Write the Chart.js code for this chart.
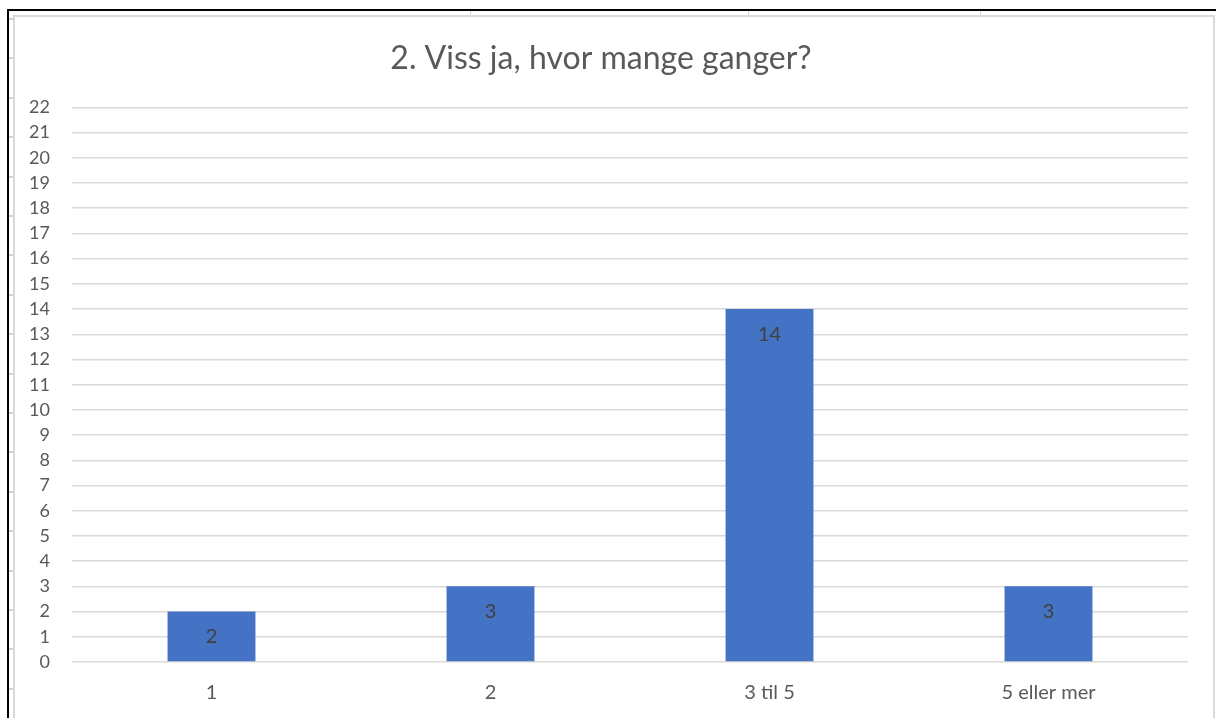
<!DOCTYPE html>
<html>
<head>
<meta charset="utf-8">
<script src="https://cdn.jsdelivr.net/npm/chart.js@4.4.1/dist/chart.umd.min.js"></script>
<style>
    body { margin: 0; background: #fff; }
    #sheet {
        position: absolute; left: 7px; top: 9px; width: 1216px; height: 718px;
        border-left: 2px solid #000; border-top: 2px solid #000;
    }
    #rows {
        position: absolute; left: 9px; top: 11px; width: 5px; height: 707px;
        background: repeating-linear-gradient(to bottom, transparent 0 7px, #d0d0d0 7px 9px, transparent 9px 39.4px);
    }
    .col { position: absolute; top: 11px; width: 1px; height: 5px; background: #d0d0d0; }
    #frame {
        position: absolute; left: 13px; top: 15px; width: 1198px; height: 710px;
        border: 2px solid #d9d9d9;
    }
    #wrap { position: absolute; left: 0; top: 0; width: 1216px; height: 718px; }
</style>
</head>
<body>
<div id="sheet"></div>
<div id="rows"></div>
<div class="col" style="left:470px"></div>
<div class="col" style="left:748px"></div>
<div class="col" style="left:980px"></div>
<div id="frame"></div>
<div id="wrap"><canvas id="chart"></canvas></div>
<script>
const title = "2. Viss ja, hvor mange ganger?";
const categories = ["1", "2", "3 til 5", "5 eller mer"];
const counts = [2, 3, 14, 3];
const yMax = 22;

const fontFamily = "Lato, 'Open Sans', sans-serif";

// value labels just inside the top of each bar, like Excel's "inside end"
const barLabels = {
    id: "barLabels",
    afterDatasetsDraw(chart) {
        const ctx = chart.ctx;
        const meta = chart.getDatasetMeta(0);
        ctx.save();
        ctx.font = "20px " + fontFamily;
        ctx.fillStyle = "#404040";
        ctx.textAlign = "center";
        ctx.textBaseline = "middle";
        meta.data.forEach((bar, i) => {
            ctx.fillText(String(counts[i]), bar.x, bar.y + 25);
        });
        ctx.restore();
    }
};

const data = {
    labels: categories,
    datasets: [{
        data: counts,
        backgroundColor: "#4472C4",
        borderWidth: 0,
        barPercentage: 0.315,
        categoryPercentage: 1
    }]
};

const config = {
    type: "bar",
    data,
    plugins: [barLabels],
    options: {
        responsive: false,
        animation: false,
        layout: { padding: { left: 14, right: 28, top: 0, bottom: 0 } },
        plugins: {
            legend: { display: false },
            tooltip: { enabled: false },
            title: {
                display: true,
                text: title,
                color: "#595959",
                font: { family: fontFamily, size: 32, weight: "normal" },
                padding: { top: 39, bottom: 30 }
            }
        },
        scales: {
            x: {
                afterFit(scale) { scale.height = 56; },
                grid: { display: false },
                border: { display: false },
                ticks: {
                    color: "#595959",
                    font: { family: fontFamily, size: 20 },
                    padding: 11
                }
            },
            y: {
                min: 0,
                max: yMax,
                afterFit(scale) { scale.width = 58; },
                grid: { color: "#d9d9d9", lineWidth: 1.5, drawTicks: false },
                border: { display: false },
                ticks: {
                    stepSize: 1,
                    autoSkip: false,
                    color: "#595959",
                    font: { family: fontFamily, size: 18 },
                    padding: 22
                }
            }
        }
    }
};

const canvas = document.getElementById("chart");
canvas.width = 1216;
canvas.height = 718;
new Chart(canvas, config);
</script>
</body>
</html>
